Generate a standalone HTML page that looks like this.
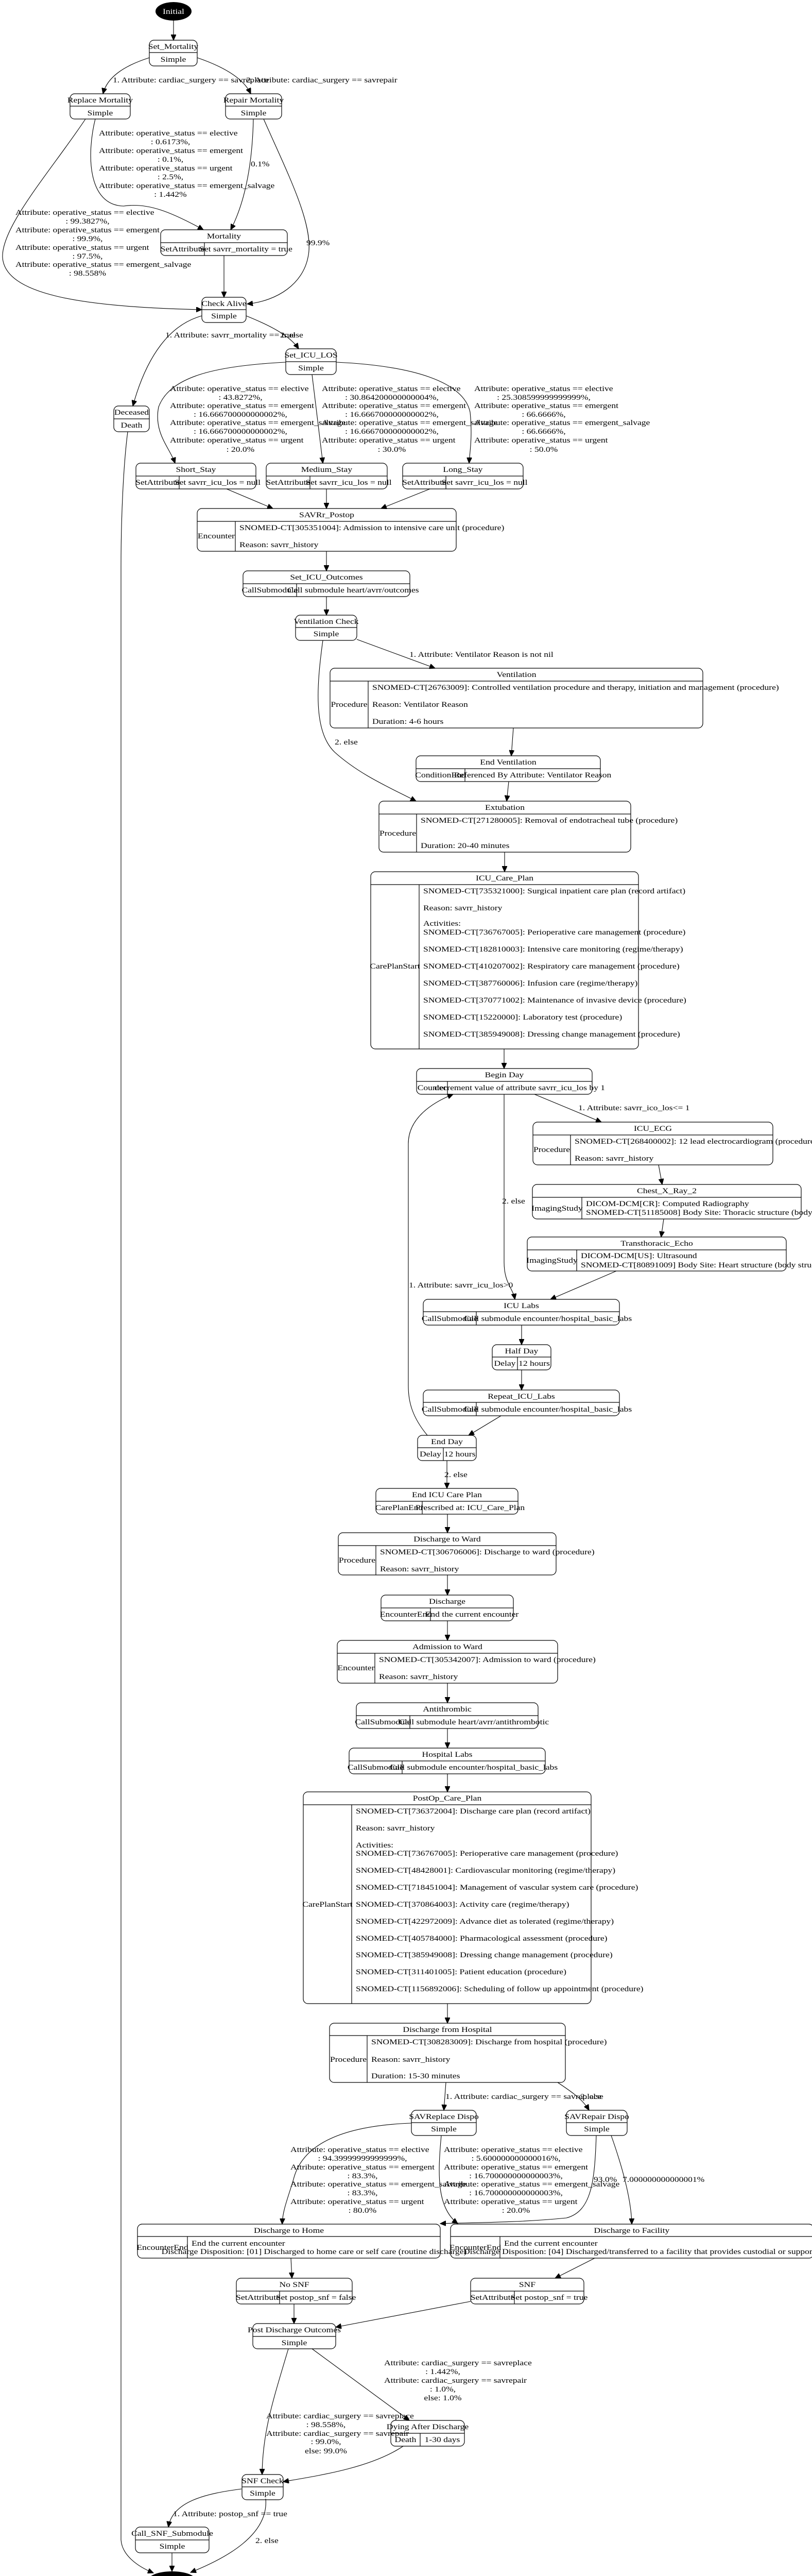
<!DOCTYPE html>
<html><head><meta charset="utf-8"><style>
html,body{margin:0;padding:0;background:#fff;width:1577px;height:5031px;overflow:hidden;}
#wrap{position:absolute;left:0;top:0;width:1577px;height:5031px;overflow:hidden;}
svg{display:block;overflow:hidden;position:absolute;left:0;top:0;}
text{font-family:"Liberation Serif","DejaVu Serif",serif;font-size:15px;fill:#000;transform-box:fill-box;transform-origin:0% 50%;transform:scaleX(1.17);}
.c{text-anchor:middle;transform-origin:50% 50%;}
.w{fill:#fff;}
rect{fill:none;stroke:#000;stroke-width:1.2;}
line{stroke:#000;stroke-width:1.2;}
path{fill:none;stroke:#000;stroke-width:1.1;}
</style></head><body><div id="wrap">
<svg width="1577" height="5031" viewBox="0 0 1577 5031" xmlns="http://www.w3.org/2000/svg">
<defs><marker id="a" markerWidth="12" markerHeight="10" refX="11" refY="5" orient="auto" markerUnits="userSpaceOnUse"><path d="M0,0 L11,5 L0,10 Z" style="fill:#000;stroke:#000"/></marker></defs>

<ellipse cx="337" cy="22" rx="35" ry="18" fill="#000"/>
<text class="c w" x="337" y="27">Initial</text>

<rect x="290" y="78" width="93" height="50" rx="9"/><line x1="290" y1="102" x2="383" y2="102"/>
<text class="c" x="336.5" y="95">Set_Mortality</text><text class="c" x="336.5" y="120">Simple</text>

<rect x="136" y="182" width="117" height="49" rx="9"/><line x1="136" y1="206" x2="253" y2="206"/>
<text class="c" x="194.5" y="199">Replace Mortality</text><text class="c" x="194.5" y="224">Simple</text>

<rect x="438" y="182" width="109" height="49" rx="9"/><line x1="438" y1="206" x2="547" y2="206"/>
<text class="c" x="492.5" y="199">Repair Mortality</text><text class="c" x="492.5" y="224">Simple</text>

<rect x="312" y="446" width="246" height="50" rx="9"/><line x1="312" y1="471" x2="558" y2="471"/><line x1="397" y1="471" x2="397" y2="496"/>
<text class="c" x="435" y="463">Mortality</text><text class="c" x="354.5" y="488">SetAttribute</text><text class="c" x="477.5" y="488">Set savrr_mortality = true</text>

<rect x="392" y="577" width="86" height="49" rx="9"/><line x1="392" y1="601" x2="478" y2="601"/>
<text class="c" x="435" y="594">Check Alive</text><text class="c" x="435" y="618">Simple</text>

<rect x="555" y="677" width="98" height="50" rx="9"/><line x1="555" y1="702" x2="653" y2="702"/>
<text class="c" x="604" y="694">Set_ICU_LOS</text><text class="c" x="604" y="719">Simple</text>

<rect x="221" y="788" width="69" height="50" rx="9"/><line x1="221" y1="813" x2="290" y2="813"/>
<text class="c" x="255.5" y="805">Deceased</text><text class="c" x="255.5" y="830">Death</text>

<rect x="264" y="899" width="233" height="50" rx="9"/><line x1="264" y1="924" x2="497" y2="924"/><line x1="348" y1="924" x2="348" y2="949"/>
<text class="c" x="380.5" y="916">Short_Stay</text><text class="c" x="306" y="941">SetAttribute</text><text class="c" x="422.5" y="941">Set savrr_icu_los = null</text>

<rect x="517" y="899" width="235" height="50" rx="9"/><line x1="517" y1="924" x2="752" y2="924"/><line x1="602" y1="924" x2="602" y2="949"/>
<text class="c" x="634.5" y="916">Medium_Stay</text><text class="c" x="559.5" y="941">SetAttribute</text><text class="c" x="677" y="941">Set savrr_icu_los = null</text>

<rect x="782" y="899" width="234" height="50" rx="9"/><line x1="782" y1="924" x2="1016" y2="924"/><line x1="866" y1="924" x2="866" y2="949"/>
<text class="c" x="899" y="916">Long_Stay</text><text class="c" x="824" y="941">SetAttribute</text><text class="c" x="941" y="941">Set savrr_icu_los = null</text>

<rect x="383" y="987" width="503" height="83" rx="9"/><line x1="383" y1="1012" x2="886" y2="1012"/><line x1="457" y1="1012" x2="457" y2="1070"/>
<text class="c" x="634.5" y="1004">SAVRr_Postop</text><text class="c" x="420" y="1045">Encounter</text>
<text x="465" y="1029">SNOMED-CT[305351004]: Admission to intensive care unit (procedure)</text>
<text x="465" y="1062">Reason: savrr_history</text>

<rect x="472" y="1108" width="324" height="50" rx="9"/><line x1="472" y1="1133" x2="796" y2="1133"/><line x1="576" y1="1133" x2="576" y2="1158"/>
<text class="c" x="634" y="1125">Set_ICU_Outcomes</text><text class="c" x="524" y="1150">CallSubmodule</text><text class="c" x="686" y="1150">Call submodule heart/avrr/outcomes</text>

<rect x="574" y="1194" width="119" height="49" rx="9"/><line x1="574" y1="1218" x2="693" y2="1218"/>
<text class="c" x="633.5" y="1211">Ventilation Check</text><text class="c" x="633.5" y="1235">Simple</text>

<rect x="641" y="1297" width="724" height="116" rx="9"/><line x1="641" y1="1322" x2="1365" y2="1322"/><line x1="715" y1="1322" x2="715" y2="1413"/>
<text class="c" x="1003" y="1314">Ventilation</text><text class="c" x="678" y="1372">Procedure</text>
<text x="723" y="1339">SNOMED-CT[26763009]: Controlled ventilation procedure and therapy, initiation and management (procedure)</text>
<text x="723" y="1372">Reason: Ventilator Reason</text>
<text x="723" y="1405">Duration: 4-6 hours</text>

<rect x="808" y="1467" width="358" height="50" rx="9"/><line x1="808" y1="1492" x2="1166" y2="1492"/><line x1="903" y1="1492" x2="903" y2="1517"/>
<text class="c" x="987" y="1484">End Ventilation</text><text class="c" x="855.5" y="1509">ConditionEnd</text><text class="c" x="1034.5" y="1509">Referenced By Attribute: Ventilator Reason</text>

<rect x="736" y="1555" width="489" height="99" rx="9"/><line x1="736" y1="1580" x2="1225" y2="1580"/><line x1="809" y1="1580" x2="809" y2="1654"/>
<text class="c" x="980.5" y="1572">Extubation</text><text class="c" x="772.5" y="1622">Procedure</text>
<text x="817" y="1597">SNOMED-CT[271280005]: Removal of endotracheal tube (procedure)</text>
<text x="817" y="1646">Duration: 20-40 minutes</text>

<rect x="720" y="1692" width="520" height="344" rx="9"/><line x1="720" y1="1717" x2="1240" y2="1717"/><line x1="814" y1="1717" x2="814" y2="2036"/>
<text class="c" x="980" y="1709">ICU_Care_Plan</text><text class="c" x="767" y="1880">CarePlanStart</text>
<text x="822" y="1734">SNOMED-CT[735321000]: Surgical inpatient care plan (record artifact)</text>
<text x="822" y="1767">Reason: savrr_history</text>
<text x="822" y="1797">Activities:</text>
<text x="822" y="1814">SNOMED-CT[736767005]: Perioperative care management (procedure)</text>
<text x="822" y="1847">SNOMED-CT[182810003]: Intensive care monitoring (regime/therapy)</text>
<text x="822" y="1880">SNOMED-CT[410207002]: Respiratory care management (procedure)</text>
<text x="822" y="1913">SNOMED-CT[387760006]: Infusion care (regime/therapy)</text>
<text x="822" y="1946">SNOMED-CT[370771002]: Maintenance of invasive device (procedure)</text>
<text x="822" y="1979">SNOMED-CT[15220000]: Laboratory test (procedure)</text>
<text x="822" y="2012">SNOMED-CT[385949008]: Dressing change management (procedure)</text>

<rect x="809" y="2074" width="341" height="50" rx="9"/><line x1="809" y1="2099" x2="1150" y2="2099"/><line x1="869" y1="2099" x2="869" y2="2124"/>
<text class="c" x="979.5" y="2091">Begin Day</text><text class="c" x="839" y="2116">Counter</text><text class="c" x="1009.5" y="2116">decrement value of attribute savrr_icu_los by 1</text>

<rect x="1035" y="2178" width="466" height="83" rx="9"/><line x1="1035" y1="2203" x2="1501" y2="2203"/><line x1="1108" y1="2203" x2="1108" y2="2261"/>
<text class="c" x="1268" y="2195">ICU_ECG</text><text class="c" x="1071.5" y="2236">Procedure</text>
<text x="1116" y="2220">SNOMED-CT[268400002]: 12 lead electrocardiogram (procedure)</text>
<text x="1116" y="2253">Reason: savrr_history</text>

<rect x="1034" y="2299" width="522" height="67" rx="9"/><line x1="1034" y1="2324" x2="1556" y2="2324"/><line x1="1130" y1="2324" x2="1130" y2="2366"/>
<text class="c" x="1295" y="2316">Chest_X_Ray_2</text><text class="c" x="1082" y="2350">ImagingStudy</text>
<text x="1138" y="2341">DICOM-DCM[CR]: Computed Radiography</text>
<text x="1138" y="2358">SNOMED-CT[51185008] Body Site: Thoracic structure (body structure)</text>

<rect x="1024" y="2401" width="503" height="66" rx="9"/><line x1="1024" y1="2426" x2="1527" y2="2426"/><line x1="1120" y1="2426" x2="1120" y2="2467"/>
<text class="c" x="1275.5" y="2418">Transthoracic_Echo</text><text class="c" x="1072" y="2451">ImagingStudy</text>
<text x="1128" y="2442">DICOM-DCM[US]: Ultrasound</text>
<text x="1128" y="2460">SNOMED-CT[80891009] Body Site: Heart structure (body structure)</text>

<rect x="822" y="2522" width="381" height="50" rx="9"/><line x1="822" y1="2546" x2="1203" y2="2546"/><line x1="925" y1="2546" x2="925" y2="2572"/>
<text class="c" x="1012.5" y="2539">ICU Labs</text><text class="c" x="873.5" y="2564">CallSubmodule</text><text class="c" x="1064" y="2564">Call submodule encounter/hospital_basic_labs</text>

<rect x="956" y="2610" width="114" height="49" rx="9"/><line x1="956" y1="2634" x2="1070" y2="2634"/><line x1="1005" y1="2634" x2="1005" y2="2659"/>
<text class="c" x="1013" y="2627">Half Day</text><text class="c" x="980.5" y="2651">Delay</text><text class="c" x="1037.5" y="2651">12 hours</text>

<rect x="822" y="2698" width="381" height="50" rx="9"/><line x1="822" y1="2722" x2="1203" y2="2722"/><line x1="925" y1="2722" x2="925" y2="2748"/>
<text class="c" x="1012.5" y="2715">Repeat_ICU_Labs</text><text class="c" x="873.5" y="2740">CallSubmodule</text><text class="c" x="1064" y="2740">Call submodule encounter/hospital_basic_labs</text>

<rect x="811" y="2786" width="114" height="49" rx="9"/><line x1="811" y1="2810" x2="925" y2="2810"/><line x1="861" y1="2810" x2="861" y2="2835"/>
<text class="c" x="868" y="2803">End Day</text><text class="c" x="836" y="2827">Delay</text><text class="c" x="893" y="2827">12 hours</text>

<rect x="730" y="2889" width="276" height="50" rx="9"/><line x1="730" y1="2914" x2="1006" y2="2914"/><line x1="820" y1="2914" x2="820" y2="2939"/>
<text class="c" x="868" y="2906">End ICU Care Plan</text><text class="c" x="775" y="2931">CarePlanEnd</text><text class="c" x="913" y="2931">Prescribed at: ICU_Care_Plan</text>

<rect x="657" y="2975" width="423" height="82" rx="9"/><line x1="657" y1="3000" x2="1080" y2="3000"/><line x1="730" y1="3000" x2="730" y2="3057"/>
<text class="c" x="868.5" y="2992">Discharge to Ward</text><text class="c" x="693.5" y="3033">Procedure</text>
<text x="738" y="3017">SNOMED-CT[306706006]: Discharge to ward (procedure)</text>
<text x="738" y="3050">Reason: savrr_history</text>

<rect x="740" y="3096" width="257" height="50" rx="9"/><line x1="740" y1="3121" x2="997" y2="3121"/><line x1="836" y1="3121" x2="836" y2="3146"/>
<text class="c" x="868.5" y="3113">Discharge</text><text class="c" x="788" y="3138">EncounterEnd</text><text class="c" x="916.5" y="3138">End the current encounter</text>

<rect x="655" y="3184" width="428" height="83" rx="9"/><line x1="655" y1="3209" x2="1083" y2="3209"/><line x1="728" y1="3209" x2="728" y2="3267"/>
<text class="c" x="869" y="3201">Admission to Ward</text><text class="c" x="691.5" y="3242">Encounter</text>
<text x="736" y="3226">SNOMED-CT[305342007]: Admission to ward (procedure)</text>
<text x="736" y="3259">Reason: savrr_history</text>

<rect x="692" y="3305" width="353" height="50" rx="9"/><line x1="692" y1="3330" x2="1045" y2="3330"/><line x1="796" y1="3330" x2="796" y2="3355"/>
<text class="c" x="868.5" y="3322">Antithrombic</text><text class="c" x="744" y="3347">CallSubmodule</text><text class="c" x="920.5" y="3347">Call submodule heart/avrr/antithrombotic</text>

<rect x="678" y="3393" width="381" height="50" rx="9"/><line x1="678" y1="3418" x2="1059" y2="3418"/><line x1="781" y1="3418" x2="781" y2="3443"/>
<text class="c" x="868.5" y="3410">Hospital Labs</text><text class="c" x="729.5" y="3435">CallSubmodule</text><text class="c" x="920" y="3435">Call submodule encounter/hospital_basic_labs</text>

<rect x="589" y="3478" width="559" height="411" rx="9"/><line x1="589" y1="3503" x2="1148" y2="3503"/><line x1="683" y1="3503" x2="683" y2="3889"/>
<text class="c" x="868.5" y="3495">PostOp_Care_Plan</text><text class="c" x="636" y="3701">CarePlanStart</text>
<text x="691" y="3520">SNOMED-CT[736372004]: Discharge care plan (record artifact)</text>
<text x="691" y="3553">Reason: savrr_history</text>
<text x="691" y="3586">Activities:</text>
<text x="691" y="3602">SNOMED-CT[736767005]: Perioperative care management (procedure)</text>
<text x="691" y="3635">SNOMED-CT[48428001]: Cardiovascular monitoring (regime/therapy)</text>
<text x="691" y="3668">SNOMED-CT[718451004]: Management of vascular system care (procedure)</text>
<text x="691" y="3701">SNOMED-CT[370864003]: Activity care (regime/therapy)</text>
<text x="691" y="3734">SNOMED-CT[422972009]: Advance diet as tolerated (regime/therapy)</text>
<text x="691" y="3767">SNOMED-CT[405784000]: Pharmacological assessment (procedure)</text>
<text x="691" y="3799">SNOMED-CT[385949008]: Dressing change management (procedure)</text>
<text x="691" y="3832">SNOMED-CT[311401005]: Patient education (procedure)</text>
<text x="691" y="3865">SNOMED-CT[1156892006]: Scheduling of follow up appointment (procedure)</text>

<rect x="640" y="3927" width="458" height="115" rx="9"/><line x1="640" y1="3951" x2="1098" y2="3951"/><line x1="713" y1="3951" x2="713" y2="4042"/>
<text class="c" x="869" y="3944">Discharge from Hospital</text><text class="c" x="676.5" y="4002">Procedure</text>
<text x="721" y="3968">SNOMED-CT[308283009]: Discharge from hospital (procedure)</text>
<text x="721" y="4002">Reason: savrr_history</text>
<text x="721" y="4034">Duration: 15-30 minutes</text>

<rect x="799" y="4096" width="126" height="49" rx="9"/><line x1="799" y1="4120" x2="925" y2="4120"/>
<text class="c" x="862" y="4113">SAVReplace Dispo</text><text class="c" x="862" y="4137">Simple</text>

<rect x="1100" y="4096" width="118" height="49" rx="9"/><line x1="1100" y1="4120" x2="1218" y2="4120"/>
<text class="c" x="1159" y="4113">SAVRepair Dispo</text><text class="c" x="1159" y="4137">Simple</text>

<rect x="267" y="4317" width="588" height="66" rx="9"/><line x1="267" y1="4341" x2="855" y2="4341"/><line x1="364" y1="4341" x2="364" y2="4383"/>
<text class="c" x="561" y="4334">Discharge to Home</text><text class="c" x="315.5" y="4367">EncounterEnd</text>
<text x="372" y="4359">End the current encounter</text>
<text class="c" x="610" y="4375">Discharge Disposition: [01] Discharged to home care or self care (routine discharge)</text>

<rect x="875" y="4317" width="705" height="66" rx="9"/><line x1="875" y1="4341" x2="1580" y2="4341"/><line x1="971" y1="4341" x2="971" y2="4383"/>
<text class="c" x="1227" y="4334">Discharge to Facility</text><text class="c" x="923" y="4367">EncounterEnd</text>
<text x="979" y="4359">End the current encounter</text>
<text x="900" y="4375">Discharge Disposition: [04] Discharged/transferred to a facility that provides custodial or supportive care</text>

<rect x="459" y="4422" width="225" height="50" rx="9"/><line x1="459" y1="4447" x2="684" y2="4447"/><line x1="543" y1="4447" x2="543" y2="4472"/>
<text class="c" x="571.5" y="4439">No SNF</text><text class="c" x="501" y="4464">SetAttribute</text><text class="c" x="613.5" y="4464">Set postop_snf = false</text>

<rect x="914" y="4422" width="220" height="50" rx="9"/><line x1="914" y1="4447" x2="1134" y2="4447"/><line x1="999" y1="4447" x2="999" y2="4472"/>
<text class="c" x="1024" y="4439">SNF</text><text class="c" x="956.5" y="4464">SetAttribute</text><text class="c" x="1066.5" y="4464">Set postop_snf = true</text>

<rect x="491" y="4510" width="161" height="49" rx="9"/><line x1="491" y1="4535" x2="652" y2="4535"/>
<text class="c" x="571.5" y="4527">Post Discharge Outcomes</text><text class="c" x="571.5" y="4552">Simple</text>

<rect x="759" y="4698" width="143" height="50" rx="9"/><line x1="759" y1="4723" x2="902" y2="4723"/><line x1="816" y1="4723" x2="816" y2="4748"/>
<text class="c" x="830.5" y="4715">Dying After Discharge</text><text class="c" x="787.5" y="4740">Death</text><text class="c" x="859" y="4740">1-30 days</text>

<rect x="470" y="4803" width="80" height="49" rx="9"/><line x1="470" y1="4827" x2="550" y2="4827"/>
<text class="c" x="510" y="4820">SNF Check</text><text class="c" x="510" y="4844">Simple</text>

<rect x="263" y="4905" width="143" height="50" rx="9"/><line x1="263" y1="4930" x2="406" y2="4930"/>
<text class="c" x="334.5" y="4922">Call_SNF_Submodule</text><text class="c" x="334.5" y="4947">Simple</text>

<ellipse cx="334" cy="5009" rx="47" ry="18" fill="#000"/>
<text class="c w" x="334" y="5014">Terminal</text>

<g marker-end="url(#a)">
<path d="M337,40 L337,78"/>
<path d="M290,112 C240,128 208,150 200,182"/>
<path d="M383,112 C430,128 472,150 487,182"/>
<path d="M166,231 C100,330 2,440 5,500 C10,570 150,596 392,601"/>
<path d="M185,231 C168,300 170,398 240,400 C285,393 330,410 395,446"/>
<path d="M492,231 C490,330 472,400 448,446"/>
<path d="M512,231 C560,340 612,440 598,500 C588,550 540,584 480,590"/>
<path d="M435,496 L435,577"/>
<path d="M392,613 C330,630 285,690 258,788"/>
<path d="M478,613 C520,630 562,650 580,677"/>
<path d="M555,703 C420,710 330,730 308,790 C298,840 330,870 340,899"/>
<path d="M606,727 L627,899"/>
<path d="M653,703 C800,710 900,740 913,800 C918,850 912,880 911,899"/>
<path d="M440,949 L530,987"/>
<path d="M634,949 L634,987"/>
<path d="M835,949 L740,987"/>
<path d="M634,1070 L634,1108"/>
<path d="M634,1158 L634,1194"/>
<path d="M693,1241 L845,1297"/>
<path d="M627,1243 C615,1330 608,1420 650,1460 C700,1505 760,1530 808,1555"/>
<path d="M997,1413 L993,1467"/>
<path d="M988,1517 L984,1555"/>
<path d="M980,1654 L980,1692"/>
<path d="M979,2036 L979,2074"/>
<path d="M1038,2124 L1168,2178"/>
<path d="M1279,2261 L1286,2299"/>
<path d="M1289,2366 L1284,2401"/>
<path d="M1197,2467 L1069,2522"/>
<path d="M979,2124 L979,2450 C979,2490 996,2500 1000,2522"/>
<path d="M1013,2572 L1013,2610"/>
<path d="M1013,2659 L1013,2698"/>
<path d="M973,2748 L910,2786"/>
<path d="M830,2786 C800,2750 793,2720 793,2690 L793,2220 C793,2170 840,2140 880,2124"/>
<path d="M868,2835 L868,2889"/>
<path d="M869,2939 L869,2975"/>
<path d="M869,3057 L869,3096"/>
<path d="M869,3146 L869,3184"/>
<path d="M869,3267 L869,3305"/>
<path d="M869,3355 L869,3393"/>
<path d="M869,3443 L869,3478"/>
<path d="M869,3889 L869,3927"/>
<path d="M866,4042 L862,4096"/>
<path d="M1083,4042 C1110,4060 1132,4075 1144,4096"/>
<path d="M799,4121 C690,4125 590,4150 570,4230 C558,4270 549,4290 548,4317"/>
<path d="M857,4145 C850,4220 848,4285 889,4316"/>
<path d="M1158,4145 C1155,4230 1150,4292 1100,4305 C1000,4315 900,4314 855,4316"/>
<path d="M1187,4145 C1210,4210 1226,4270 1227,4317"/>
<path d="M565,4383 L567,4422"/>
<path d="M1155,4383 L1078,4422"/>
<path d="M571,4472 L571,4510"/>
<path d="M914,4467 L652,4517"/>
<path d="M560,4559 C530,4660 510,4720 509,4803"/>
<path d="M606,4559 L795,4698"/>
<path d="M783,4748 C720,4790 620,4805 550,4817"/>
<path d="M469,4831 C400,4840 335,4855 327,4905"/>
<path d="M516,4850 C522,4920 440,4965 370,4993"/>
<path d="M334,4955 L334,4991"/>
<path d="M248,838 C240,900 235,1000 235,1100 L235,4930 C237,4960 268,4982 298,4994"/>
</g>

<text x="219" y="160">1. Attribute: cardiac_surgery == savreplace</text>
<text x="478" y="160">2. Attribute: cardiac_surgery == savrepair</text>

<text x="192" y="263">Attribute: operative_status == elective</text>
<text class="c" x="331" y="280">: 0.6173%,</text>
<text x="192" y="297">Attribute: operative_status == emergent</text>
<text class="c" x="331" y="314">: 0.1%,</text>
<text x="192" y="331">Attribute: operative_status == urgent</text>
<text class="c" x="331" y="348">: 2.5%,</text>
<text x="192" y="365">Attribute: operative_status == emergent_salvage</text>
<text class="c" x="331" y="382">: 1.442%</text>
<text x="487" y="323">0.1%</text>

<text x="30" y="417">Attribute: operative_status == elective</text>
<text class="c" x="170" y="434">: 99.3827%,</text>
<text x="30" y="451">Attribute: operative_status == emergent</text>
<text class="c" x="170" y="468">: 99.9%,</text>
<text x="30" y="485">Attribute: operative_status == urgent</text>
<text class="c" x="170" y="502">: 97.5%,</text>
<text x="30" y="518">Attribute: operative_status == emergent_salvage</text>
<text class="c" x="170" y="535">: 98.558%</text>
<text x="595" y="476">99.9%</text>

<text x="321" y="655">1. Attribute: savrr_mortality == true</text>
<text x="544" y="655">2. else</text>

<text x="330" y="759">Attribute: operative_status == elective</text>
<text class="c" x="467" y="776">: 43.8272%,</text>
<text x="330" y="792">Attribute: operative_status == emergent</text>
<text class="c" x="467" y="809">: 16.666700000000002%,</text>
<text x="330" y="825">Attribute: operative_status == emergent_salvage</text>
<text class="c" x="467" y="842">: 16.666700000000002%,</text>
<text x="330" y="859">Attribute: operative_status == urgent</text>
<text class="c" x="467" y="877">: 20.0%</text>

<text x="625" y="759">Attribute: operative_status == elective</text>
<text class="c" x="761" y="776">: 30.864200000000004%,</text>
<text x="625" y="792">Attribute: operative_status == emergent</text>
<text class="c" x="761" y="809">: 16.666700000000002%,</text>
<text x="625" y="825">Attribute: operative_status == emergent_salvage</text>
<text class="c" x="761" y="842">: 16.666700000000002%,</text>
<text x="625" y="859">Attribute: operative_status == urgent</text>
<text class="c" x="761" y="877">: 30.0%</text>

<text x="921" y="759">Attribute: operative_status == elective</text>
<text class="c" x="1056" y="776">: 25.308599999999999%,</text>
<text x="921" y="792">Attribute: operative_status == emergent</text>
<text class="c" x="1056" y="809">: 66.6666%,</text>
<text x="921" y="825">Attribute: operative_status == emergent_salvage</text>
<text class="c" x="1056" y="842">: 66.6666%,</text>
<text x="921" y="859">Attribute: operative_status == urgent</text>
<text class="c" x="1056" y="877">: 50.0%</text>

<text x="795" y="1275">1. Attribute: Ventilator Reason is not nil</text>
<text x="650" y="1445">2. else</text>
<text x="1123" y="2155">1. Attribute: savrr_ico_los&lt;= 1</text>
<text x="975" y="2336">2. else</text>
<text x="794" y="2499">1. Attribute: savrr_icu_los&gt;0</text>
<text x="863" y="2867">2. else</text>

<text x="865" y="4074">1. Attribute: cardiac_surgery == savreplace</text>
<text x="1127" y="4074">2. else</text>

<text x="564" y="4177">Attribute: operative_status == elective</text>
<text class="c" x="704" y="4194">: 94.39999999999999%,</text>
<text x="564" y="4211">Attribute: operative_status == emergent</text>
<text class="c" x="704" y="4228">: 83.3%,</text>
<text x="564" y="4244">Attribute: operative_status == emergent_salvage</text>
<text class="c" x="704" y="4261">: 83.3%,</text>
<text x="564" y="4278">Attribute: operative_status == urgent</text>
<text class="c" x="704" y="4295">: 80.0%</text>

<text x="862" y="4177">Attribute: operative_status == elective</text>
<text class="c" x="1002" y="4194">: 5.600000000000016%,</text>
<text x="862" y="4211">Attribute: operative_status == emergent</text>
<text class="c" x="1002" y="4228">: 16.700000000000003%,</text>
<text x="862" y="4244">Attribute: operative_status == emergent_salvage</text>
<text class="c" x="1002" y="4261">: 16.700000000000003%,</text>
<text x="862" y="4278">Attribute: operative_status == urgent</text>
<text class="c" x="1002" y="4295">: 20.0%</text>

<text x="1153" y="4235">93.0%</text>
<text x="1209" y="4235">7.000000000000001%</text>

<text x="746" y="4591">Attribute: cardiac_surgery == savreplace</text>
<text class="c" x="860" y="4608">: 1.442%,</text>
<text x="746" y="4625">Attribute: cardiac_surgery == savrepair</text>
<text class="c" x="860" y="4642">: 1.0%,</text>
<text class="c" x="860" y="4659">else: 1.0%</text>

<text x="517" y="4694">Attribute: cardiac_surgery == savreplace</text>
<text class="c" x="633" y="4711">: 98.558%,</text>
<text x="517" y="4728">Attribute: cardiac_surgery == savrepair</text>
<text class="c" x="633" y="4744">: 99.0%,</text>
<text class="c" x="633" y="4762">else: 99.0%</text>

<text x="336" y="4884">1. Attribute: postop_snf == true</text>
<text x="496" y="4936">2. else</text>
</svg>
</div></body></html>
